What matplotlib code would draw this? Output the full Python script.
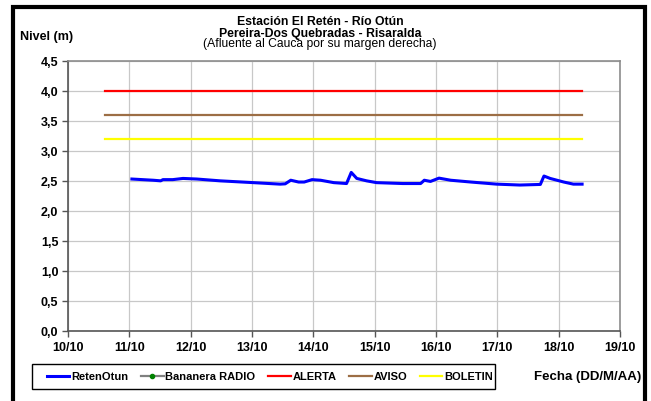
import matplotlib
matplotlib.use("Agg")
import matplotlib.pyplot as plt
import matplotlib.dates as mdates
import matplotlib.patches as mpatches
import pandas as pd

plt.rcParams['font.family'] = ['Liberation Sans', 'DejaVu Sans']

# ---- data ----
reten_time = ["2023-10-11 01:00", "2023-10-11 09:20", "2023-10-11 12:15", "2023-10-11 13:10",
              "2023-10-11 17:00", "2023-10-11 21:00", "2023-10-12 02:25", "2023-10-12 11:30",
              "2023-10-13 00:30", "2023-10-13 11:00", "2023-10-13 13:00", "2023-10-13 15:10",
              "2023-10-13 18:15", "2023-10-13 20:25", "2023-10-13 23:30", "2023-10-14 02:50",
              "2023-10-14 08:00", "2023-10-14 13:00", "2023-10-14 14:50", "2023-10-14 17:00",
              "2023-10-14 20:50", "2023-10-15 00:45", "2023-10-15 11:00", "2023-10-15 18:00",
              "2023-10-15 19:25", "2023-10-15 21:50", "2023-10-16 01:10", "2023-10-16 05:45",
              "2023-10-16 13:40", "2023-10-16 23:45", "2023-10-17 08:50", "2023-10-17 16:50",
              "2023-10-17 18:15", "2023-10-17 20:40", "2023-10-18 02:00", "2023-10-18 05:45",
              "2023-10-18 09:10"]
reten_nivel = [2.53, 2.51, 2.50, 2.52, 2.52, 2.54, 2.53, 2.50,
               2.47, 2.445, 2.45, 2.51, 2.48, 2.48, 2.52, 2.51,
               2.47, 2.455, 2.64, 2.54, 2.50, 2.47, 2.455, 2.455,
               2.51, 2.49, 2.545, 2.51, 2.48, 2.445, 2.43, 2.44,
               2.58, 2.54, 2.48, 2.445, 2.445]

bananera_time = []
bananera_nivel = []

umbral_time = ["2023-10-10 14:25", "2023-10-18 09:10"]
alerta = [4.0, 4.0]
aviso = [3.6, 3.6]
boletin = [3.2, 3.2]

x_ticks = pd.date_range("2023-10-10", "2023-10-19", freq="D")
y_ticks = [0.0, 0.5, 1.0, 1.5, 2.0, 2.5, 3.0, 3.5, 4.0, 4.5]

# ---- figure ----
W, H = 651, 402
fig = plt.figure(figsize=(W / 100, H / 100), dpi=100)
ax = fig.add_axes([68 / W, 1 - 332 / H, (620 - 68) / W, (332 - 61.7) / H])

ax.plot(pd.to_datetime(umbral_time), alerta, color="#FF0000", lw=1.6, label="ALERTA", zorder=3)
ax.plot(pd.to_datetime(umbral_time), aviso, color="#9C6E45", lw=1.6, label="AVISO", zorder=3)
ax.plot(pd.to_datetime(umbral_time), boletin, color="#FFFF00", lw=1.6, label="BOLETIN", zorder=3)
ax.plot(pd.to_datetime(bananera_time), bananera_nivel, color="#808080", lw=1.6,
        marker="o", markersize=3, markerfacecolor="#008000", markeredgecolor="#008000",
        label="Bananera RADIO")
ax.plot(pd.to_datetime(reten_time), reten_nivel, color="#0000FF", lw=2.2, label="RetenOtun", zorder=4)

ax.set_xlim(x_ticks[0], x_ticks[-1])
ax.set_ylim(0, 4.5)
ax.set_xticks(x_ticks)
ax.xaxis.set_major_formatter(mdates.DateFormatter("%d/%m"))
ax.set_yticks(y_ticks)
ax.set_yticklabels([f"{v:.1f}".replace(".", ",") for v in y_ticks])
ax.grid(True, color="#C8C8C8", lw=0.9)
ax.set_axisbelow(True)
for lab in ax.get_xticklabels() + ax.get_yticklabels():
    lab.set_fontweight("bold")
    lab.set_fontsize(9)
ax.tick_params(axis="both", direction="out", length=4, width=1, color="#555555", pad=3)
ax.tick_params(axis="x", pad=3)
for s in ["left", "bottom"]:
    ax.spines[s].set_color("#555555")
    ax.spines[s].set_linewidth(1.2)
for s in ["top", "right"]:
    ax.spines[s].set_color("#8C8C8C")
    ax.spines[s].set_linewidth(1.2)

# titles
fig.text(320 / W, 1 - 25 / H, "Estación El Retén - Río Otún", ha="center", va="baseline",
         fontsize=8.8, fontweight="bold")
fig.text(320 / W, 1 - 36.5 / H, "Pereira-Dos Quebradas - Risaralda", ha="center", va="baseline",
         fontsize=8.8, fontweight="bold")
fig.text(320 / W, 1 - 47.5 / H, "(Afluente al Cauca por su margen derecha)", ha="center",
         va="baseline", fontsize=8.7)
fig.text(20 / W, 1 - 37 / H, "Nivel (m)", ha="left", va="center", fontsize=9, fontweight="bold")
fig.text(641 / W, 1 - 377 / H, "Fecha (DD/M/AA)", ha="right", va="center", fontsize=9.5,
         fontweight="bold")

# legend (content without frame) + box drawn separately
handles, labels = ax.get_legend_handles_labels()
order = ["RetenOtun", "Bananera RADIO", "ALERTA", "AVISO", "BOLETIN"]
hmap = dict(zip(labels, handles))
leg = fig.legend([hmap[k] for k in order], order, loc="center",
                 bbox_to_anchor=(270 / W, 1 - 377.5 / H),
                 ncol=5, frameon=False,
                 prop={"weight": "bold", "size": 8}, handlelength=2.0, handletextpad=0.15,
                 columnspacing=1.18, borderpad=0.0)
fig.patches.append(mpatches.Rectangle((32 / W, 1 - 390 / H), (495 - 32) / W, 25 / H,
                                      transform=fig.transFigure, fill=False,
                                      edgecolor="black", linewidth=1.0))

# outer border
fig.patches.append(mpatches.Rectangle((13 / W, -0.05), (645 - 13) / W, 1.05 - 8 / H,
                                      transform=fig.transFigure, fill=False,
                                      edgecolor="black", linewidth=3.0))

fig.savefig("out.png", dpi=100)
